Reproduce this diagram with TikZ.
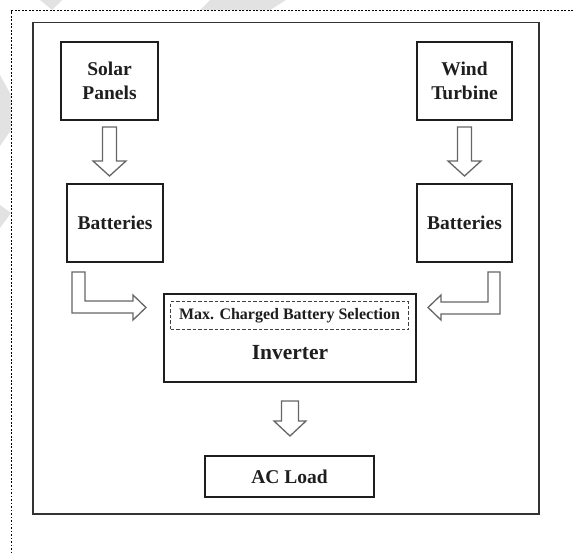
\documentclass[tikz,border=0pt]{standalone}
\usepackage{fontspec}
\setmainfont{Liberation Serif}
\usetikzlibrary{calc}
\definecolor{ink}{HTML}{1E1E1E}
\definecolor{wm}{HTML}{E2E2E2}
\begin{document}
\begin{tikzpicture}[x=1pt,y=-1pt,
  box/.style={draw=ink, line width=2pt, fill=white, text=ink, align=center, inner sep=0pt,
    font=\bfseries\fontsize{19.5}{24}\selectfont},
  harrow/.style={draw=black!60, line width=1.3pt, fill=white, line join=miter},
  selbox/.style={draw=black!75, line width=1.1pt, dash pattern=on 3.5pt off 2pt, inner sep=0pt,
    text=ink, font=\bfseries\fontsize{16}{18}\selectfont},
  plain/.style={text=ink, inner sep=0pt, font=\bfseries\fontsize{21.5}{24}\selectfont}]
\useasboundingbox (0,0) rectangle (573,554);
% faint watermark fragments in the margin
\fill[wm] (40,0) -- (62,0) -- (52,10) -- cycle;
\fill[wm] (200,10) -- (210,0) -- (286,0) -- (270,10) -- cycle;
\fill[wm] (0,75) -- (11,95) -- (11,130) -- (0,146) -- cycle;
\fill[wm] (0,205) -- (11,213) -- (0,228) -- cycle;
% dotted page border
\draw[black, line width=1.7pt, dash pattern=on 1.7pt off 1.8pt] (573,10.5) -- (11.5,10.5) -- (11.5,554);
% outer frame
\draw[black!80, line width=1.8pt] (33,22.5) rectangle (539,514);
% blocks
\node[box, minimum width=97pt, minimum height=78pt] (sp) at (109.5,81) {Solar\\Panels};
\node[box, minimum width=95pt, minimum height=78pt] (wt) at (464.5,81) {Wind\\Turbine};
\node[box, minimum width=96pt, minimum height=78pt] (b1) at (115,223) {Batteries};
\node[box, minimum width=95pt, minimum height=78pt] (b2) at (464.5,223) {Batteries};
\node[box, minimum width=252pt, minimum height=88pt] (inv) at (290,338) {};
\node[selbox, minimum width=238pt, minimum height=28pt] (sel) at (289.5,315.5) {Max. Charged Battery Selection};
\node[plain] (invtxt) at (290,353) {Inverter};
\node[box, minimum width=169pt, minimum height=41pt] (ac) at (289.5,476.5) {AC Load};
% hollow arrows
\draw[harrow] ($(sp.south)+(-7,6)$) -- ++(0,34) -- ++(-9.5,0) -- ++(16.5,15) -- ++(16.5,-15)
  -- ++(-9.5,0) -- ++(0,-34) -- cycle;
\draw[harrow] ($(wt.south)+(-7,6)$) -- ++(0,34) -- ++(-9.5,0) -- ++(16.5,15) -- ++(16.5,-15)
  -- ++(-9.5,0) -- ++(0,-34) -- cycle;
\draw[harrow] ($(inv.south)+(-8.5,18)$) -- ++(0,20) -- ++(-7.5,0) -- ++(16,15) -- ++(16,-15)
  -- ++(-7.5,0) -- ++(0,-20) -- cycle;
\draw[harrow] ($(b1.south west)+(6,9)$) -- ++(0,41) -- ++(61,0) -- ++(0,7) -- ++(13,-12.5)
  -- ++(-13,-12.5) -- ++(0,6) -- ++(-48,0) -- ++(0,-29) -- cycle;
\draw[harrow] ($(b2.south east)+(-13,9)$) -- ++(0,42) -- ++(-59,0) -- ++(0,6) -- ++(-13,-12.5)
  -- ++(13,-12.5) -- ++(0,7) -- ++(47,0) -- ++(0,-30) -- cycle;
\end{tikzpicture}
\end{document}
